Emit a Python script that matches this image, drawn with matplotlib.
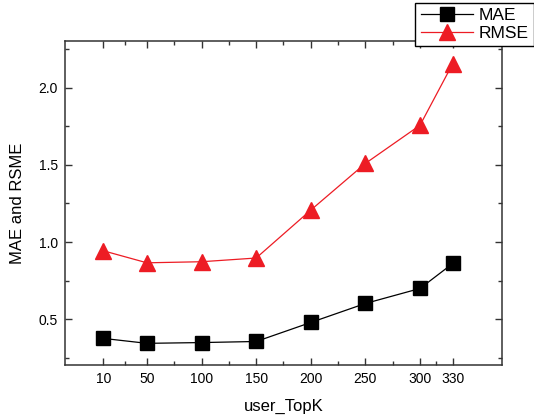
import numpy as np
import matplotlib as mpl
import matplotlib.pyplot as plt

plt.rcParams['font.family'] = ['Liberation Sans', 'DejaVu Sans']

# 数据
topk = [10, 50, 100, 150, 200, 250, 300, 330]
mae = [0.377, 0.345, 0.350, 0.357, 0.480, 0.603, 0.700, 0.862]
rmse = [0.944, 0.866, 0.873, 0.897, 1.207, 1.509, 1.756, 2.155]
xtick_labels = ['10', '50', '100', '150', '200', '250', '300', '330']

fig = plt.figure(figsize=(5.34, 4.2), dpi=100)
ax = fig.add_axes([0.1217, 0.131, 0.8183, 0.771])

ax.plot(topk, mae, color='black', lw=0.9, marker='s', markersize=9.5,
        markerfacecolor='black', markeredgecolor='black', label='MAE')
ax.plot(topk, rmse, color='#ED1C24', lw=0.9, marker='^', markersize=11.5,
        markerfacecolor='#ED1C24', markeredgecolor='#ED1C24', label='RMSE')

ax.set_xlim(-25, 375)
ax.set_ylim(0.205, 2.3)

# 刻度
ax.set_xticks(topk)
ax.set_xticklabels(xtick_labels)
ax.set_xticks((np.array(topk[:-1]) + np.array(topk[1:])) / 2, minor=True)
ax.set_yticks([0.5, 1.0, 1.5, 2.0])
ax.set_yticks([0.25, 0.75, 1.25, 1.75, 2.25], minor=True)
ax.tick_params(which='both', direction='in', top=True, right=True,
               labelsize=10, color='#333333')
ax.tick_params(which='major', length=5, width=1, pad=5)
ax.tick_params(which='minor', length=3, width=1)
for s in ax.spines.values():
    s.set_linewidth(1.1)
    s.set_color('#333333')

ax.set_xlabel('user_TopK', fontsize=12, labelpad=9)
ax.set_ylabel('MAE and RSME', fontsize=12, labelpad=10)

leg = fig.legend(loc='upper right', bbox_to_anchor=(1.0, 0.993), fontsize=12.5,
                 fancybox=False, edgecolor='black', framealpha=1,
                 handlelength=3.0, borderpad=0.3, labelspacing=0.15,
                 handletextpad=0.35, borderaxespad=0.0)
leg.get_frame().set_linewidth(1.0)

plt.savefig('out.png', dpi=100)
